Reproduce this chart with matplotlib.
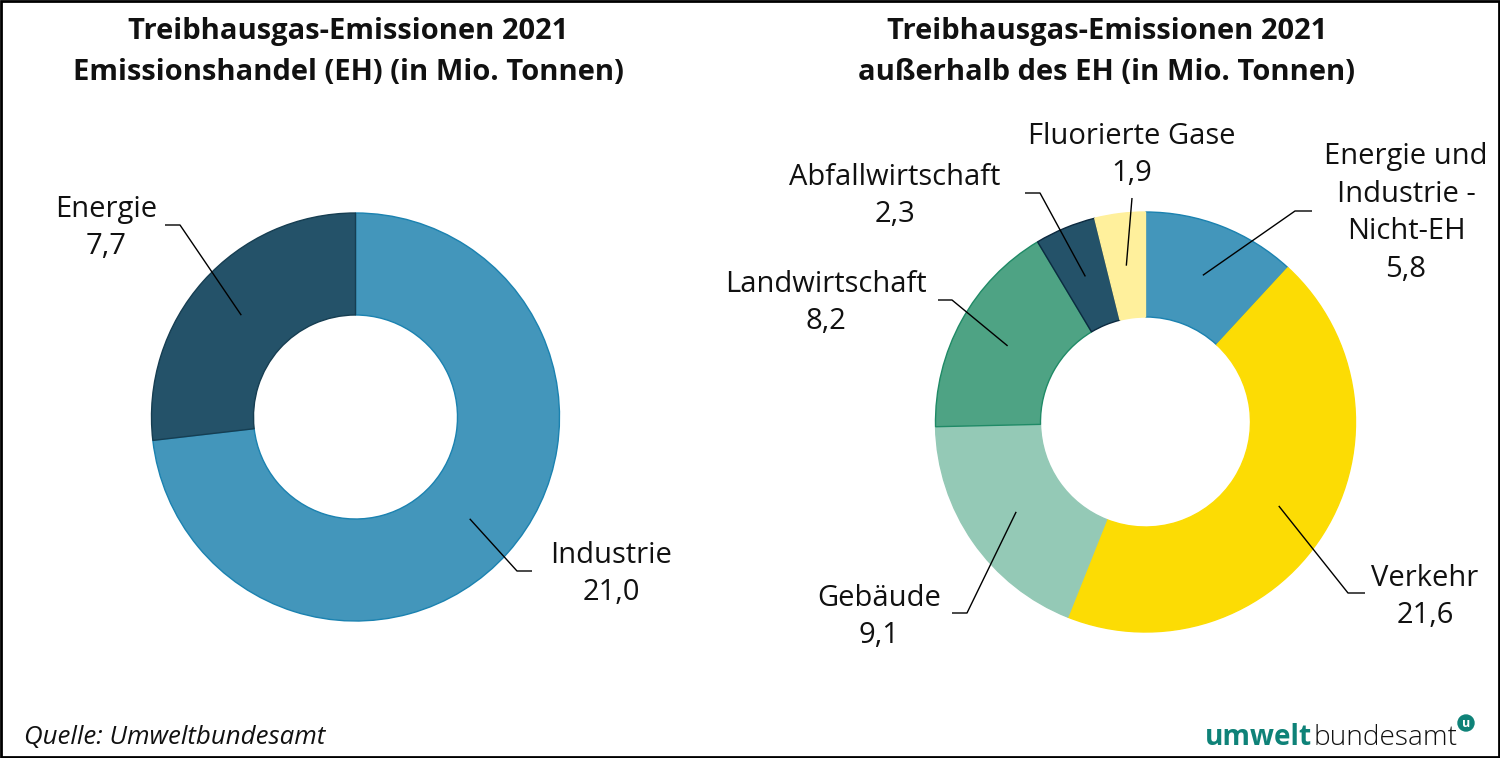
import numpy as np
import matplotlib
matplotlib.use("Agg")
import matplotlib.pyplot as plt
from matplotlib.patches import Rectangle, Circle

plt.rcParams['font.family'] = ['Open Sans', 'DejaVu Sans']

# ---- data ----
left_title = "Treibhausgas-Emissionen 2021\nEmissionshandel (EH) (in Mio. Tonnen)"
left_labels = ["Industrie", "Energie"]
left_values = [21.0, 7.7]
left_colors = ["#4396bb", "#245269"]
left_edges = ["#1b82b0", "#163e52"]

right_title = "Treibhausgas-Emissionen 2021\naußerhalb des EH (in Mio. Tonnen)"
right_labels = ["Energie und\nIndustrie -\nNicht-EH", "Verkehr", "Gebäude",
                "Landwirtschaft", "Abfallwirtschaft", "Fluorierte Gase"]
right_values = [5.8, 21.6, 9.1, 8.2, 2.3, 1.9]
right_colors = ["#4396bb", "#fcdc04", "#94c9b6", "#4ea384", "#245269", "#fff09c"]
right_edges = ["#1b82b0", "#fcdc04", "#94c9b6", "#1f8a66", "#0c2a40", "#fff09c"]

W, H = 1500, 758
fig = plt.figure(figsize=(W / 100, H / 100), dpi=100)
ax = fig.add_axes([0, 0, 1, 1])


def Y(p):
    return H - p


def fmt(v):
    return f"{v:.1f}".replace(".", ",")


def donut(values, colors, edges, cx, cy, R, labels, layout):
    wedges, _ = ax.pie(values, colors=colors, startangle=90, counterclock=False,
                       radius=R, center=(cx, Y(cy)),
                       wedgeprops=dict(width=R * 0.5, linewidth=1.0))
    for w, ec in zip(wedges, edges):
        w.set_edgecolor(ec)
    for w, lab, v, lay in zip(wedges, labels, values, layout):
        ang = np.deg2rad((w.theta1 + w.theta2) / 2)
        ax0 = cx + 0.75 * R * np.cos(ang)
        ay0 = Y(cy) + 0.75 * R * np.sin(ang)
        pts = [(ax0, ay0)] + [(px, Y(py)) for px, py in lay["line"]]
        xs, ys = zip(*pts)
        ax.plot(xs, ys, color="black", lw=1.0, solid_capstyle="butt")
        tx, ty = lay["text"]
        ax.text(tx, Y(ty), lab + "\n" + fmt(v), ha="center", va="center",
                fontsize=21, linespacing=1.38, color="#111111")


left_layout = [
    dict(line=[(517, 571), (532, 571)], text=(611, 574)),
    dict(line=[(180, 225), (165, 225)], text=(106, 228)),
]
right_layout = [
    dict(line=[(1295, 211), (1312, 211)], text=(1406, 213)),
    dict(line=[(1348, 593), (1365, 593)], text=(1425, 597)),
    dict(line=[(967, 613), (952, 613)], text=(879, 617)),
    dict(line=[(952, 300), (938, 300)], text=(826, 303)),
    dict(line=[(1040, 193), (1025, 193)], text=(895, 196)),
    dict(line=[(1132, 198)], text=(1132, 155)),
]

donut(left_values, left_colors, left_edges, 355.5, 417, 204, left_labels, left_layout)
donut(right_values, right_colors, right_edges, 1145.5, 422, 210, right_labels, right_layout)

ax.set_xlim(0, W)
ax.set_ylim(0, H)
ax.set_aspect("auto")
ax.axis("off")

ax.text(348, Y(52), left_title, ha="center", va="center", fontsize=21,
        fontweight="bold", linespacing=1.55, color="#111111")
ax.text(1107, Y(52), right_title, ha="center", va="center", fontsize=21,
        fontweight="bold", linespacing=1.55, color="#111111")

ax.text(24, Y(737), "Quelle: Umweltbundesamt", ha="left", va="center",
        fontsize=18.6, style="italic", color="#111111")

# logo
teal = "#0e8278"
t1 = ax.text(1205, Y(745), "umwelt", ha="left", va="baseline", fontsize=20.2,
             fontweight="bold", color=teal)
fig.canvas.draw()
r = fig.canvas.get_renderer()
bb = t1.get_window_extent(r)
x2 = bb.x1 + 1
t2 = ax.text(x2, Y(745), "bundesamt", ha="left", va="baseline", fontsize=20.2,
             fontweight="light", color="#111111")
ax.add_patch(Circle((1466, Y(723)), 8, color=teal, zorder=5))
ax.text(1466, Y(723.5), "u", ha="center", va="center", fontsize=9,
        fontweight="bold", color="white", zorder=6)

ax.add_patch(Rectangle((1, 1), W - 2, H - 2, fill=False, edgecolor="black",
                       lw=2, zorder=10))

fig.savefig("out.png", dpi=100)
